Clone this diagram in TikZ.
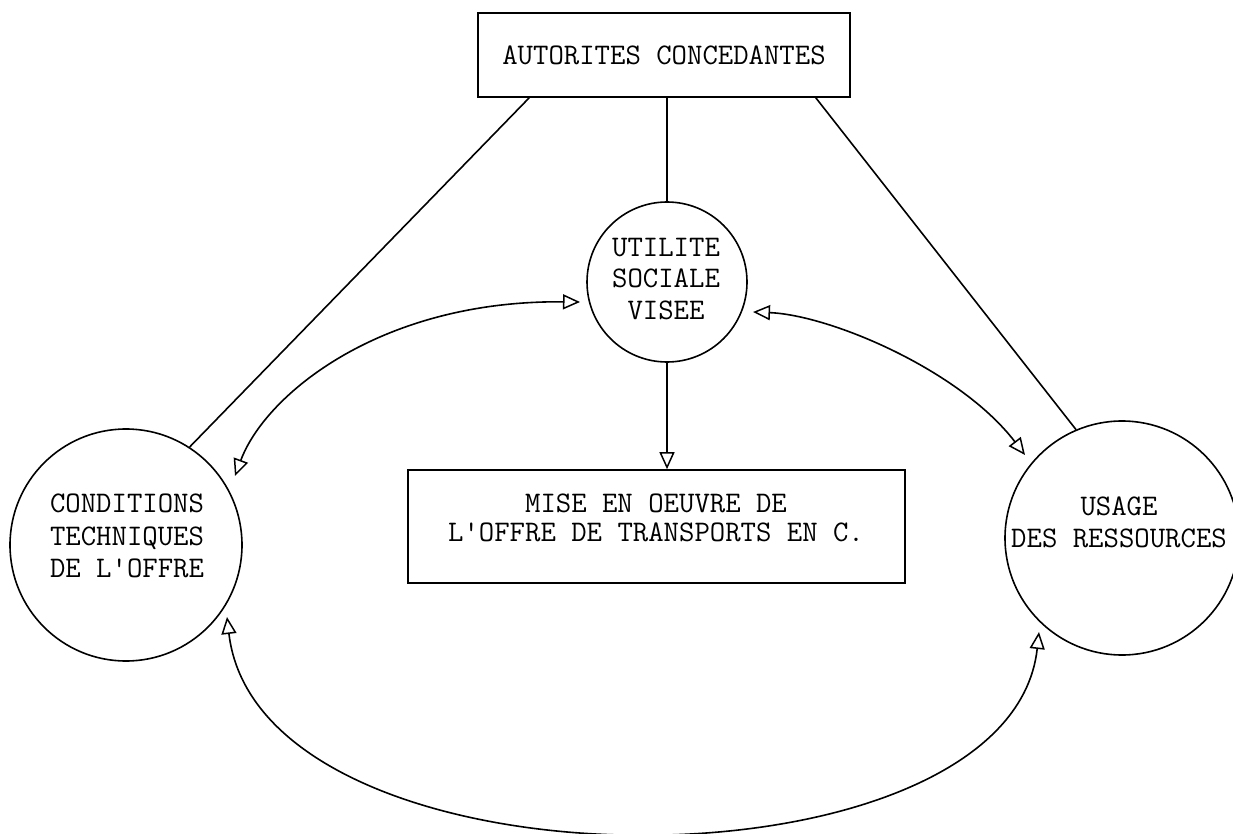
\documentclass[tikz,border=0pt]{standalone}
\usetikzlibrary{arrows.meta,calc}

\tikzset{
  stroke/.style={line width=1.6pt, black},
  box/.style={stroke, draw, rectangle, inner sep=0pt},
  ring/.style={stroke, draw, circle, inner sep=0pt},
  lbl/.style={align=center, inner sep=0pt,
    font=\fontsize{29.9}{31.5}\selectfont\ttfamily},
  flow/.style={stroke, -{Triangle[open, length=17pt, width=15pt, line width=1.5pt]}},
  flows/.style={stroke, {Triangle[open, length=17pt, width=15pt, line width=1.5pt]}-{Triangle[open, length=17pt, width=15pt, line width=1.5pt]}},
}

\begin{document}
\begin{tikzpicture}[x=1pt, y=-1pt]
  \useasboundingbox (0,0) rectangle (1233,834);
  \clip (0,0) rectangle (1233,834);

  % authorities box and the three subject circles
  \node[box, minimum width=372pt, minimum height=84pt, lbl] (auto) at (664,55) {AUTORITES CONCEDANTES};
  \node[ring, minimum size=160pt] (util) at (667,282) {};
  \node[lbl, font=\fontsize{29.9}{31.5}\selectfont\ttfamily] (utiltxt) at (666,279) {UTILITE\\SOCIALE\\VISEE};
  \node[ring, minimum size=232pt] (cond) at (126,545) {};
  \node[lbl, font=\fontsize{29.9}{32.5}\selectfont\ttfamily] (condtxt) at (127,536)
    {CONDITIONS\\TECHNIQUES\\DE L\textquotesingle OFFRE};
  \node[ring, minimum size=234pt] (usage) at (1122,538) {};
  \node[lbl, font=\fontsize{29.9}{32}\selectfont\ttfamily] (usagetxt) at (1119,522) {USAGE\\DES RESSOURCES};

  % implementation box
  \node[box, minimum width=497pt, minimum height=113pt] (mise) at (656.5,526.5) {};
  \node[lbl, font=\fontsize{29.9}{29}\selectfont\ttfamily] (misetxt) at (656,518)
    {MISE EN OEUVRE DE\\L\textquotesingle OFFRE DE TRANSPORTS EN C.};

  % links from the authorities
  \draw[stroke] ($(auto.south west)+(52,0)$) -- (cond.57);
  \draw[stroke] (util.north |- auto.south) -- (util.north);
  \draw[stroke] ($(auto.south east)+(-35,0)$) -- (usage.113);

  % objective drives the implementation
  \draw[flow, line width=2pt] (util.south) -- (util.south |- mise.north);

  % mutual relations between the three circles
  \draw[flows] ($(cond.center)+(109,-69)$) .. controls (265,395) and (380,300) .. ($(util.center)+(-87,20)$);
  \draw[flows] ($(util.center)+(86,30)$) .. controls (830,315) and (960,370) .. ($(usage.center)+(-97,-83)$);
  \draw[flows] ($(cond.center)+(101,72)$) .. controls (260,900) and (1010,900) .. ($(usage.center)+(-83,94)$);
\end{tikzpicture}
\end{document}
